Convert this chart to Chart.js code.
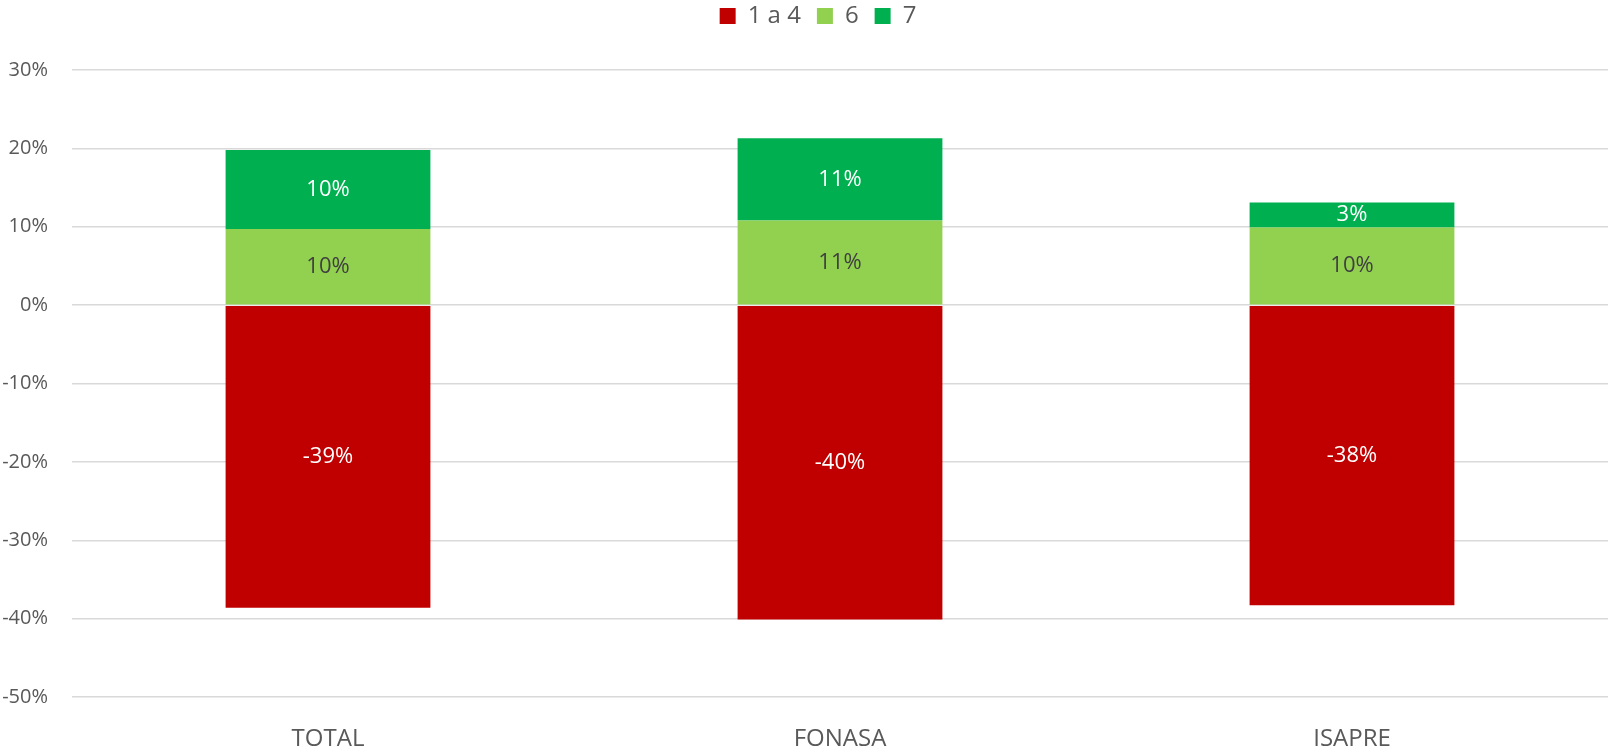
<!DOCTYPE html>
<html>
<head>
<meta charset="utf-8">
<script src="https://cdn.jsdelivr.net/npm/chart.js@4/dist/chart.umd.min.js"></script>
<style>
  html, body { margin: 0; padding: 0; background: #fff; }
  #wrap { width: 1610px; height: 748px; }
</style>
</head>
<body>
<div id="wrap"><canvas id="grafico"></canvas></div>
<script>
const categorias = ['TOTAL', 'FONASA', 'ISAPRE'];
const nota1a4 = [-38.6, -40.1, -38.3];
const nota6 = [9.7, 10.8, 9.9];
const nota7 = [10.1, 10.5, 3.2];
const ticksY = [-50, -40, -30, -20, -10, 0, 10, 20, 30];

const etiquetas = {
  id: 'etiquetas',
  beforeInit(chart) {
    // leyenda mas alta para bajar el area del grafico
    const fit = chart.legend.fit;
    chart.legend.fit = function () {
      fit.call(this);
      this.height = 70;
    };
  },
  afterLayout(chart) {
    chart.legend.left += 14;
    chart.legend.right += 14;
    chart.legend.top -= 12;
  },
  afterDatasetsDraw(chart) {
    const ctx = chart.ctx;
    ctx.save();
    ctx.font = '22px "Open Sans"';
    ctx.textAlign = 'center';
    ctx.textBaseline = 'middle';
    chart.data.datasets.forEach((ds, i) => {
      chart.getDatasetMeta(i).data.forEach((bar, j) => {
        const v = ds.data[j];
        const y = (bar.y + bar.base) / 2;
        ctx.fillStyle = ds.labelColor;
        ctx.fillText(Math.round(v) + '%', bar.x, y);
      });
    });
    ctx.restore();
  }
};

new Chart(document.getElementById('grafico'), {
  type: 'bar',
  data: {
    labels: categorias,
    datasets: [
      { label: '1 a 4', data: nota1a4, backgroundColor: '#C00000', labelColor: '#ffffff' },
      { label: '6', data: nota6, backgroundColor: '#92D050', labelColor: '#404040' },
      { label: '7', data: nota7, backgroundColor: '#00B050', labelColor: '#ffffff' }
    ]
  },
  options: {
    responsive: true,
    maintainAspectRatio: false,
    animation: false,
    layout: { padding: { top: 0, right: 2, left: 0, bottom: 0 } },
    datasets: {
      bar: { categoryPercentage: 1, barPercentage: 0.4, borderWidth: 0 }
    },
    plugins: {
      legend: {
        position: 'top',
        labels: {
          boxWidth: 16,
          boxHeight: 16,
          padding: 16,
          color: '#595959',
          font: { family: 'Open Sans', size: 24 }
        }
      },
      tooltip: { enabled: false }
    },
    scales: {
      x: {
        stacked: true,
        grid: { display: false },
        border: { display: false },
        ticks: { color: '#595959', padding: 20, font: { family: 'Open Sans', size: 24 } },
        afterFit: s => { s.height = 51; }
      },
      y: {
        stacked: true,
        min: -50,
        max: 30,
        afterBuildTicks: s => { s.ticks = ticksY.map(v => ({ value: v })); },
        grid: { color: '#d9d9d9', lineWidth: 1.5, drawTicks: false },
        border: { display: false },
        ticks: {
          color: '#595959',
          padding: 24,
          font: { family: 'Open Sans', size: 20 },
          callback: v => v + '%'
        },
        afterFit: s => { s.width = 72; }
      }
    }
  },
  plugins: [etiquetas]
});
</script>
</body>
</html>
